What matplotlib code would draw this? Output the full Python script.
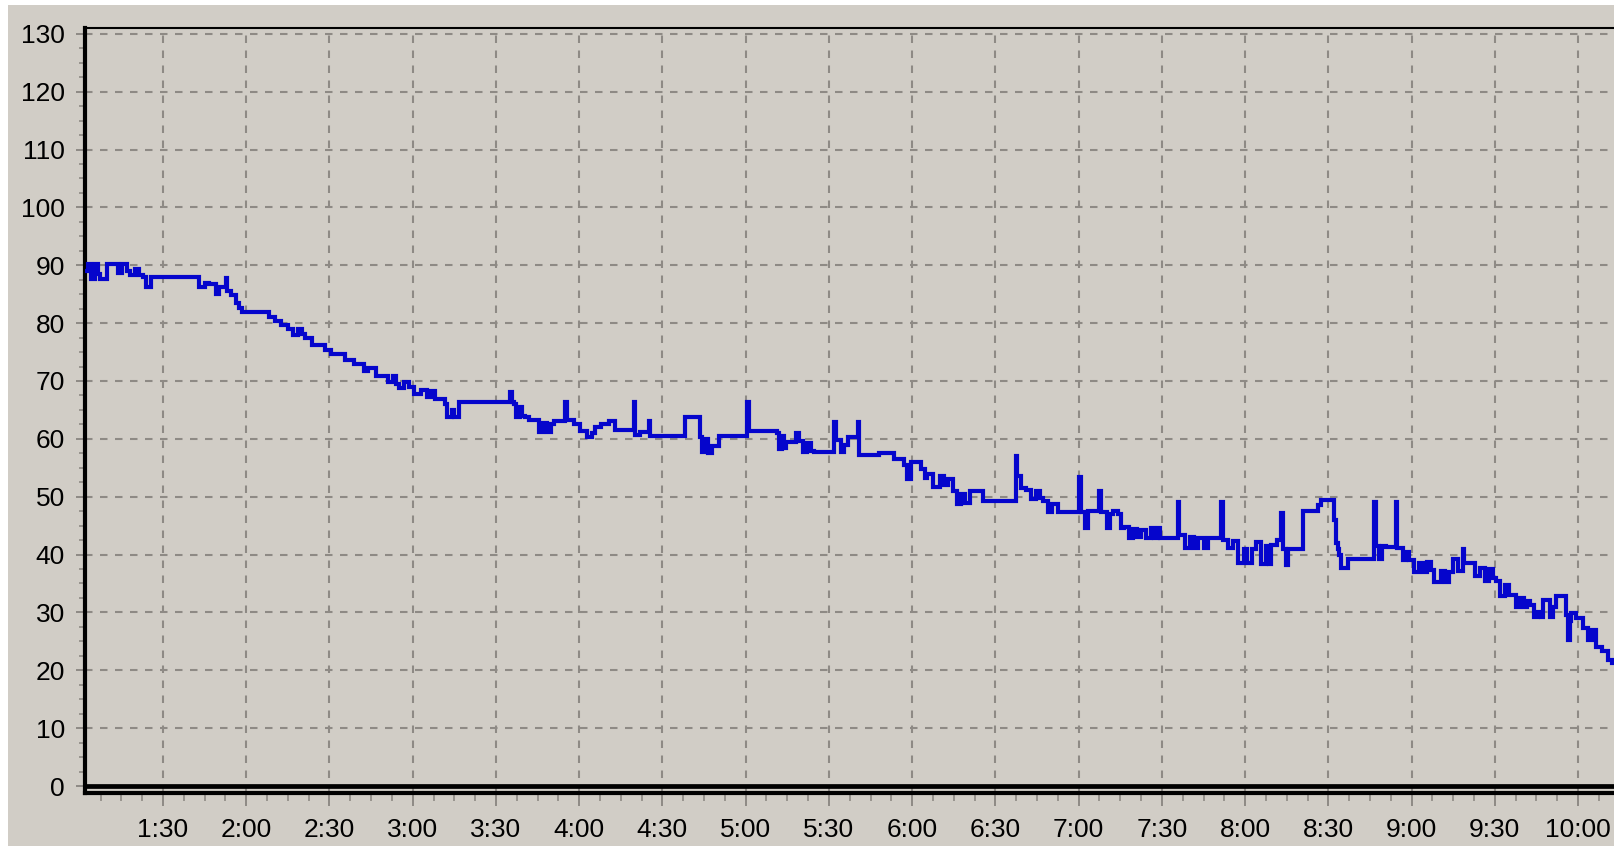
import matplotlib
matplotlib.use("Agg")
import matplotlib.pyplot as plt
from matplotlib.patches import Rectangle
from matplotlib.ticker import MultipleLocator

plt.rcParams['font.family'] = ['Liberation Sans', 'DejaVu Sans']

# readings, time in minutes after midnight, value held until the next reading
t_min = [
    61.9, 63.0, 64.0, 65.6, 66.5, 67.4, 69.8, 73.9, 75.1, 77.0,
    78.1, 80.0, 81.5, 82.9, 84.0, 85.8, 103.1, 105.0, 106.7, 109.0,
    110.2, 112.6, 113.1, 114.4, 116.2, 117.5, 118.6, 128.1, 130.5, 132.5,
    135.2, 137.0, 138.5, 140.0, 141.2, 143.6, 148.3, 150.7, 155.5, 159.0,
    162.6, 163.8, 166.8, 171.0, 173.0, 174.0, 175.0, 176.8, 178.6, 180.4,
    183.0, 185.0, 186.5, 188.2, 191.8, 192.5, 194.0, 195.0, 196.6, 215.2,
    215.7, 216.4, 217.2, 218.5, 219.5, 220.6, 222.0, 225.4, 227.0, 228.5,
    229.8, 230.8, 235.0, 235.5, 238.0, 240.4, 242.8, 244.5, 245.8, 248.0,
    250.6, 253.0, 259.6, 260.1, 262.0, 265.0, 265.5, 278.2, 283.5, 284.3,
    285.5, 286.5, 288.0, 290.4, 300.6, 301.1, 311.4, 312.0, 313.0, 313.9,
    314.5, 318.1, 319.3, 320.5, 322.0, 323.5, 324.7, 331.9, 332.4, 334.2,
    335.5, 336.7, 340.4, 340.9, 348.2, 353.6, 357.2, 358.2, 359.6, 363.3,
    364.5, 365.5, 367.5, 369.9, 371.5, 373.0, 374.7, 376.0, 377.5, 379.0,
    380.7, 385.5, 397.3, 397.8, 399.2, 401.0, 403.0, 404.5, 406.0, 407.0,
    409.0, 410.5, 412.4, 420.2, 420.7, 422.2, 423.3, 427.5, 428.0, 430.2,
    431.3, 432.3, 434.1, 435.2, 436.5, 438.0, 439.5, 441.0, 442.5, 444.3,
    446.0, 447.0, 448.5, 449.4, 455.8, 456.3, 458.5, 460.0, 461.5, 463.0,
    465.0, 466.6, 471.4, 471.9, 474.0, 475.5, 477.5, 479.5, 480.5, 482.3,
    484.0, 485.9, 487.5, 488.5, 489.5, 491.5, 493.1, 493.6, 494.9, 495.5,
    501.0, 506.4, 507.5, 512.0, 512.6, 513.3, 514.0, 514.5, 516.9, 526.5,
    527.0, 528.3, 529.5, 530.7, 534.3, 534.8, 537.0, 538.0, 539.2, 541.0,
    542.5, 544.0, 545.5, 547.0, 548.2, 550.5, 552.0, 553.6, 555.0, 556.8,
    558.4, 558.9, 562.7, 564.5, 566.5, 568.0, 569.5, 570.5, 572.0, 573.5,
    575.0, 577.5, 579.0, 580.5, 581.5, 582.5, 584.0, 585.5, 586.5, 587.3,
    589.8, 590.8, 592.2, 595.8, 596.3, 597.0, 597.6, 599.4, 601.8, 603.5,
    605.0, 606.6, 608.5, 610.8, 612.2, 614.0,
]
level = [
    89.0, 90.2, 87.6, 90.2, 88.5, 87.6, 90.3, 88.6, 90.3, 89.0,
    88.3, 89.3, 88.3, 88.0, 86.2, 88.0, 86.3, 87.0, 86.8, 85.1,
    86.3, 87.8, 85.5, 84.8, 83.4, 82.6, 82.0, 81.1, 80.3, 79.7,
    79.0, 78.0, 79.0, 78.2, 77.4, 76.2, 75.4, 74.6, 73.7, 72.9,
    71.7, 72.3, 70.9, 69.8, 70.8, 69.5, 68.7, 69.9, 69.0, 67.8,
    68.4, 67.2, 68.2, 66.9, 66.0, 63.8, 65.0, 63.8, 66.4, 68.1,
    66.4, 66.0, 63.8, 65.5, 64.0, 63.7, 63.2, 61.2, 62.8, 61.2,
    62.5, 63.1, 66.4, 63.3, 62.5, 61.4, 60.4, 61.0, 62.0, 62.6,
    63.1, 61.5, 66.4, 60.6, 61.2, 63.1, 60.5, 63.7, 60.4, 57.8,
    60.0, 57.6, 58.7, 60.5, 66.3, 61.4, 61.0, 58.2, 60.5, 58.5,
    59.5, 61.0, 59.6, 57.8, 59.3, 57.9, 57.8, 62.9, 59.8, 57.8,
    59.0, 60.4, 62.9, 57.2, 57.6, 56.6, 55.5, 53.1, 56.0, 54.8,
    53.2, 54.0, 51.6, 53.5, 52.0, 53.0, 51.0, 48.8, 50.5, 48.9,
    50.9, 49.2, 57.0, 53.5, 51.5, 51.2, 49.6, 51.0, 49.8, 49.3,
    47.3, 48.8, 47.4, 53.4, 47.4, 44.6, 47.5, 51.0, 47.4, 44.6,
    47.0, 47.5, 47.0, 44.6, 44.8, 42.9, 44.5, 43.0, 44.3, 42.9,
    44.6, 42.9, 44.6, 42.9, 49.1, 43.3, 41.1, 43.0, 41.1, 42.8,
    41.1, 42.9, 49.1, 42.6, 41.1, 42.4, 38.5, 41.0, 38.5, 41.0,
    42.2, 38.3, 41.5, 38.3, 41.7, 42.5, 47.2, 41.0, 38.2, 41.0,
    47.5, 48.6, 49.5, 46.0, 42.0, 41.0, 40.0, 37.6, 39.3, 49.0,
    41.5, 39.3, 41.5, 41.3, 49.0, 41.2, 39.0, 40.5, 39.0, 37.0,
    38.5, 37.0, 38.7, 37.3, 35.2, 37.2, 35.3, 37.0, 39.2, 37.2,
    41.0, 38.5, 36.3, 37.7, 35.5, 37.5, 36.0, 35.4, 32.9, 34.8,
    33.0, 30.9, 32.5, 30.9, 32.0, 31.3, 29.2, 30.0, 29.2, 32.2,
    29.2, 31.0, 32.8, 29.5, 25.2, 28.5, 29.9, 29.0, 27.3, 25.2,
    27.0, 24.1, 23.4, 21.8, 21.2, 21.0,
]

y_ticks = [0, 10, 20, 30, 40, 50, 60, 70, 80, 90, 100, 110, 120, 130]
x_tick_labels = ["1:30", "2:00", "2:30", "3:00", "3:30", "4:00", "4:30",
                 "5:00", "5:30", "6:00", "6:30", "7:00", "7:30", "8:00",
                 "8:30", "9:00", "9:30", "10:00"]


def to_minutes(label):
    h, m = label.split(":")
    return int(h) * 60 + int(m)


BG = "#d1cdc6"
GRID = "#8e8a85"
LINE = "#0505cc"

W, H = 1615, 846
fig = plt.figure(figsize=(W / 100, H / 100), dpi=100, facecolor="white")
fig.patches.append(Rectangle((8 / W, 0), 1, (H - 5) / H, transform=fig.transFigure,
                             facecolor=BG, edgecolor="none", zorder=-10))

ax = fig.add_axes([85 / W, (H - 792.5) / H, (W - 85) / W, 764.5 / H])
ax.set_facecolor(BG)

ax.plot(t_min, level, drawstyle="steps-post", color=LINE, lw=3.0, zorder=3,
        solid_joinstyle="miter")
ax.axhline(0, color="black", lw=3.4, zorder=4)

ax.set_xlim(61.9, 613.3)
ax.set_ylim(-1.12, 131.0)

ax.set_yticks(y_ticks)
ax.set_yticklabels([str(v) for v in y_ticks])
ax.set_xticks([to_minutes(s) for s in x_tick_labels])
ax.set_xticklabels(x_tick_labels)
ax.xaxis.set_minor_locator(MultipleLocator(7.5))
ax.yaxis.set_minor_locator(MultipleLocator(2.5))

ax.set_axisbelow(True)
ax.grid(True, which="major", color=GRID, lw=1.5, linestyle=(0, (3.6, 3.6)))

ax.tick_params(axis="y", which="major", direction="out", length=6.5, width=1.4,
               color=GRID, pad=8, labelsize=19, labelcolor="black")
ax.tick_params(axis="y", which="minor", direction="out", length=4.5, width=1.2,
               color=GRID)
ax.tick_params(axis="x", which="major", direction="out", length=9.7, width=1.4,
               color=GRID, pad=9, labelsize=19, labelcolor="black")
ax.tick_params(axis="x", which="minor", direction="out", length=6, width=1.2,
               color=GRID)

ax.spines["left"].set_linewidth(3)
ax.spines["bottom"].set_linewidth(3)
ax.spines["top"].set_linewidth(1.5)
ax.spines["right"].set_visible(False)
for s in ["left", "bottom", "top"]:
    ax.spines[s].set_color("black")

fig.savefig("out.png", dpi=100, facecolor=fig.get_facecolor())
